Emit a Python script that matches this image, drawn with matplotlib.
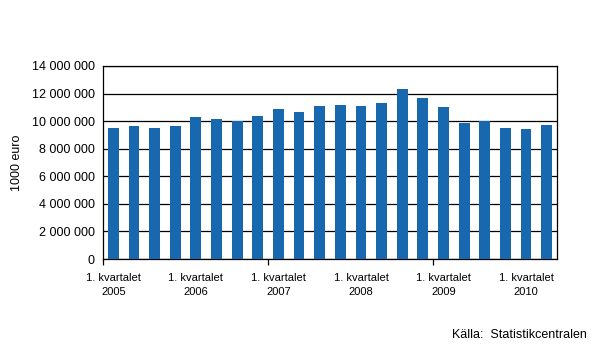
import matplotlib
matplotlib.use("Agg")
import matplotlib.pyplot as plt
from matplotlib.ticker import FuncFormatter, FixedLocator

plt.rcParams['font.family'] = ['Liberation Sans', 'DejaVu Sans']

quarters = [f"{y} Q{q}" for y in range(2005, 2011) for q in range(1, 5)][:22]
values = [9.50, 9.65, 9.50, 9.65, 10.30, 10.15, 9.98, 10.37, 10.88, 10.66,
          11.10, 11.17, 11.10, 11.31, 12.33, 11.67, 11.03, 9.86, 9.98, 9.50,
          9.43, 9.72]
values = [v * 1e6 for v in values]
label_years = ["2005", "2006", "2007", "2008", "2009", "2010"]
yticks = [0, 2e6, 4e6, 6e6, 8e6, 10e6, 12e6, 14e6]

fig = plt.figure(figsize=(5.97, 3.56), dpi=100)
ax = fig.add_axes([103/597, 1-259/356, (557-103)/597, (259-66)/356])

x = list(range(len(values)))
ax.bar(x, values, width=0.52, color='#1868B0', zorder=3)

ax.set_ylim(0, 14e6)
ax.set_xlim(-0.5, len(values) - 0.5)
ax.set_yticks(yticks)
ax.yaxis.set_major_formatter(FuncFormatter(lambda v, p: f"{int(v):,}".replace(",", " ")))
ax.grid(axis='y', color='black', linewidth=0.9, zorder=1)
ax.tick_params(axis='y', length=0, labelsize=9, pad=6)

label_pos = [i for i in range(0, len(values), 4)]
ax.set_xticks(label_pos)
ax.set_xticklabels([f"1. kvartalet\n{y}" for y in label_years], fontsize=8, linespacing=1.55)
ax.tick_params(axis='x', which='major', length=0, pad=10)
ax.xaxis.set_minor_locator(FixedLocator([-0.5, 7.5, 15.5]))
ax.tick_params(axis='x', which='minor', length=4, width=0.9, direction='out')

for s in ax.spines.values():
    s.set_linewidth(0.9)
    s.set_color('black')

ax.set_ylabel("1000 euro", fontsize=9, labelpad=6)
fig.text(587/597, 1-335/356, "Källa:  Statistikcentralen", ha='right', va='center', fontsize=9)

fig.savefig("out.png", dpi=100)
